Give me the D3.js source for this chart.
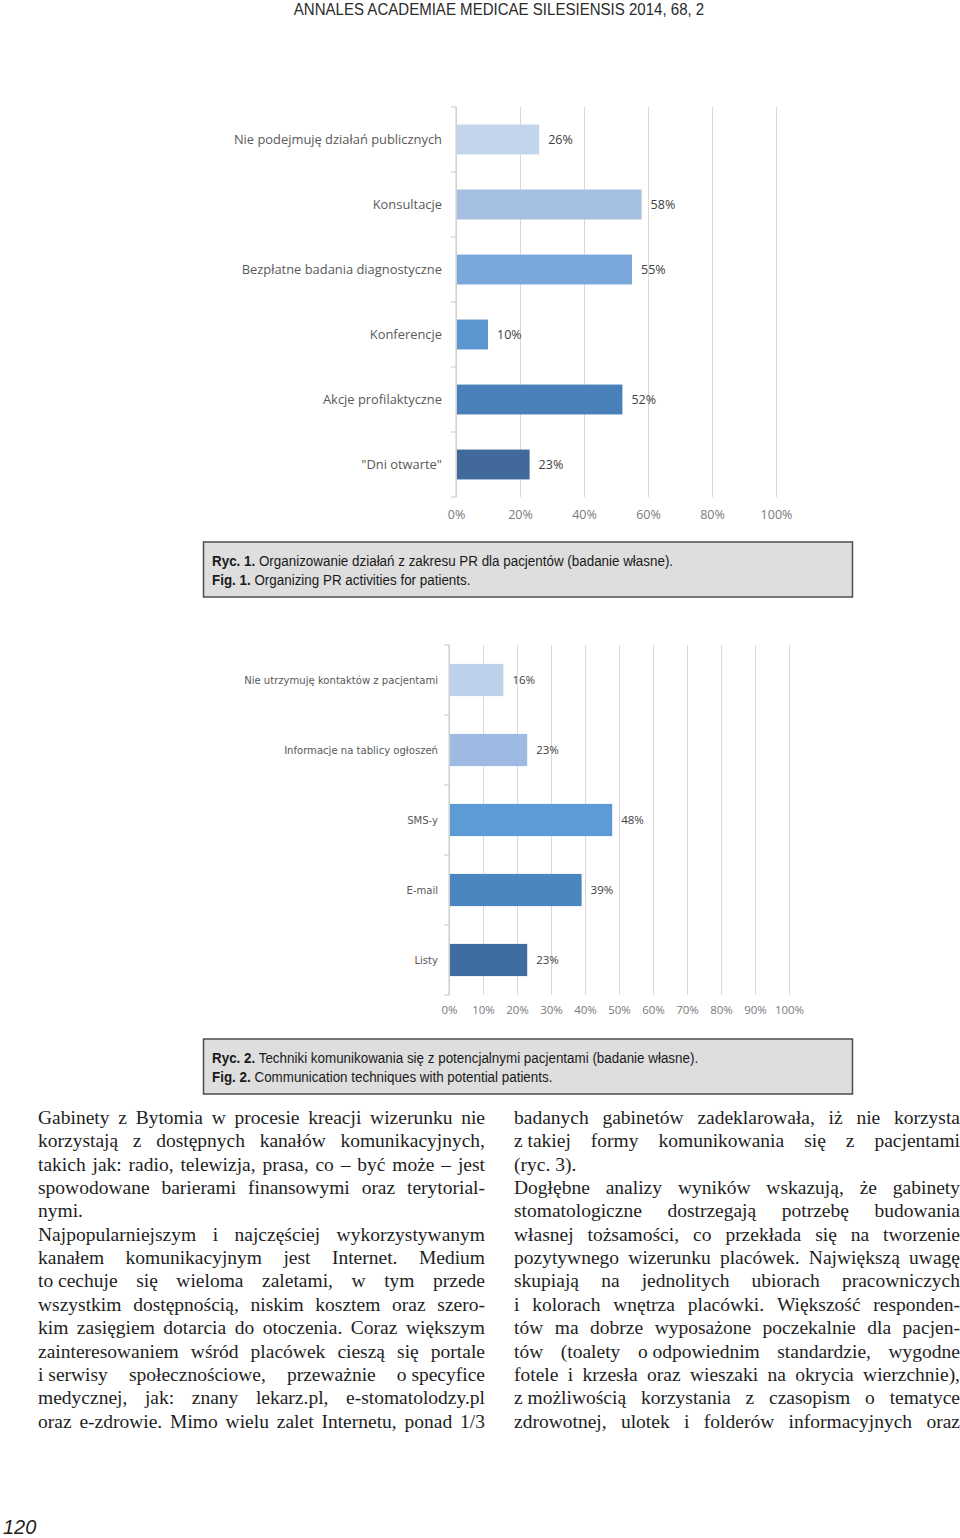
<!DOCTYPE html>
<html><head><meta charset="utf-8">
<script src="https://cdn.jsdelivr.net/npm/d3@7"></script>
<style>
html,body{margin:0;padding:0;background:#fff;}
svg{display:block;}
</style></head>
<body>
<svg id="page" width="960" height="1538"></svg>
<script>
// ---------- DATA ----------
const chart1Categories = ["Nie podejmuję działań publicznych","Konsultacje","Bezpłatne badania diagnostyczne","Konferencje","Akcje profilaktyczne","\"Dni otwarte\""];
const chart1Values = [26, 58, 55, 10, 52, 23];
const chart1Ticks = [0, 20, 40, 60, 80, 100];

const chart2Categories = ["Nie utrzymuję kontaktów z pacjentami","Informacje na tablicy ogłoszeń","SMS-y","E-mail","Listy"];
const chart2Values = [16, 23, 48, 39, 23];
const chart2Ticks = [0, 10, 20, 30, 40, 50, 60, 70, 80, 90, 100];

const palette1 = ["#c3d5ec","#a5bfe3","#7ba8db","#5b96d1","#4a80ba","#41699a"];
const palette2 = ["#bdd1eb","#9dbae2","#5c9bd5","#4b86c1","#3f6d9f"];

const headerText = "ANNALES ACADEMIAE MEDICAE SILESIENSIS 2014, 68, 2";
const caption1 = [["Ryc. 1.", " Organizowanie działań z zakresu PR dla pacjentów (badanie własne)."],["Fig. 1.", " Organizing PR activities for patients."]];
const caption2 = [["Ryc. 2.", " Techniki komunikowania się z potencjalnymi pacjentami (badanie własne)."],["Fig. 2.", " Communication techniques with potential patients."]];

const NB = "\u00a0";
const leftLines = [
 ["Gabinety z Bytomia w procesie kreacji wizerunku nie", true],
 ["korzystają z dostępnych kanałów komunikacyjnych,", true],
 ["takich jak: radio, telewizja, prasa, co – być może – jest", true],
 ["spowodowane barierami finansowymi oraz terytorial-", true],
 ["nymi.", false],
 ["Najpopularniejszym i najczęściej wykorzystywanym", true],
 ["kanałem komunikacyjnym jest Internet. Medium", true],
 ["to"+NB+"cechuje się wieloma zaletami, w tym przede", true],
 ["wszystkim dostępnością, niskim kosztem oraz szero-", true],
 ["kim zasięgiem dotarcia do otoczenia. Coraz większym", true],
 ["zainteresowaniem wśród placówek cieszą się portale", true],
 ["i"+NB+"serwisy społecznościowe, przeważnie o"+NB+"specyfice", true],
 ["medycznej, jak: znany lekarz.pl, e-stomatolodzy.pl", true],
 ["oraz e-zdrowie. Mimo wielu zalet Internetu, ponad 1/3", true]
];
const rightLines = [
 ["badanych gabinetów zadeklarowała, iż nie korzysta", true],
 ["z"+NB+"takiej formy komunikowania się z pacjentami", true],
 ["(ryc. 3).", false],
 ["Dogłębne analizy wyników wskazują, że gabinety", true],
 ["stomatologiczne dostrzegają potrzebę budowania", true],
 ["własnej tożsamości, co przekłada się na tworzenie", true],
 ["pozytywnego wizerunku placówek. Największą uwagę", true],
 ["skupiają na jednolitych ubiorach pracowniczych", true],
 ["i kolorach wnętrza placówki. Większość responden-", true],
 ["tów ma dobrze wyposażone poczekalnie dla pacjen-", true],
 ["tów (toalety o"+NB+"odpowiednim standardzie, wygodne", true],
 ["fotele i krzesła oraz wieszaki na okrycia wierzchnie),", true],
 ["z"+NB+"możliwością korzystania z czasopism o tematyce", true],
 ["zdrowotnej, ulotek i folderów informacyjnych oraz", true]
];
const pageNumber = "120";

// ---------- DRAW ----------
const svg = d3.select("#page");
const sans = "'Liberation Sans',Arial,sans-serif";
const chartFont = "'Open Sans','Noto Sans',sans-serif";
const condensed = "'DejaVu Sans Condensed','Open Sans',sans-serif";

svg.append("g").attr("transform",`translate(499,15) scale(0.885,1)`)
  .append("text").attr("x",0).attr("y",0).attr("text-anchor","middle")
  .style("font-family", sans).style("font-size","17px").attr("fill","#2b2b2b")
  .text(headerText);

function barChart(opts){
  const g = svg.append("g");
  const x = d3.scaleLinear().domain([0,100]).range([opts.x0, opts.x1]);
  const y = d3.scaleBand().domain(opts.cats).range([opts.top, opts.bottom]).paddingInner(opts.pad).paddingOuter(opts.pad/2);
  g.append("g").attr("transform",`translate(0,${opts.bottom})`)
    .call(d3.axisBottom(x).tickValues(opts.ticks).tickSize(-(opts.bottom-opts.top)).tickFormat(""))
    .call(s=>s.select(".domain").remove())
    .call(s=>s.selectAll("line").attr("stroke","#d9d9d9").attr("stroke-width",1));
  g.append("g").attr("transform",`translate(0,${opts.bottom})`)
    .call(d3.axisBottom(x).tickValues(opts.ticks).tickSize(0).tickPadding(opts.tickPad).tickFormat(d=>d+"%"))
    .call(s=>s.select(".domain").remove())
    .call(s=>s.selectAll("text").attr("fill","#7a7a7a").style("font-family",opts.font).style("font-size",opts.tickFs));
  g.selectAll("rect.bar").data(opts.vals).join("rect").attr("class","bar")
    .attr("x", x(0)+1).attr("y",(d,i)=>y(opts.cats[i]))
    .attr("width", d=>x(d)-x(0)-1).attr("height", y.bandwidth())
    .attr("fill",(d,i)=>opts.colors[i]);
  const boundaries = opts.cats.map((c,i)=>opts.top + i*y.step()).concat([opts.bottom]);
  g.append("line").attr("x1",x(0)).attr("x2",x(0)).attr("y1",opts.top).attr("y2",opts.bottom).attr("stroke","#c8c8c8");
  g.selectAll("line.bt").data(boundaries).join("line").attr("class","bt")
    .attr("x1",x(0)-5).attr("x2",x(0)).attr("y1",d=>d).attr("y2",d=>d).attr("stroke","#c8c8c8");
  g.append("g").attr("transform",`translate(${x(0)},0)`)
    .call(d3.axisLeft(y).tickSize(0).tickPadding(opts.labPad))
    .call(s=>s.select(".domain").remove())
    .call(s=>s.selectAll("text").attr("fill","#595959").style("font-family",opts.labFont).style("font-size",opts.labFs));
  g.selectAll("text.val").data(opts.vals).join("text").attr("class","val")
    .attr("x", d=>x(d)+opts.valPad).attr("y",(d,i)=>y(opts.cats[i])+y.bandwidth()/2).attr("dy","0.35em")
    .attr("fill","#404040").style("font-family",opts.font).style("font-size",opts.valFs)
    .text(d=>d+"%");
}

barChart({cats:chart1Categories, vals:chart1Values, ticks:chart1Ticks, colors:palette1,
  x0:456, x1:776, top:107, bottom:497, pad:0.54, font:chartFont, labFont:chartFont,
  tickFs:"12.5px", labFs:"12.9px", valFs:"12.5px", tickPad:13, labPad:14, valPad:9});

barChart({cats:chart2Categories, vals:chart2Values, ticks:chart2Ticks, colors:palette2,
  x0:449, x1:789, top:645, bottom:995, pad:0.54, font:chartFont, labFont:condensed,
  tickFs:"11.5px", labFs:"11.2px", valFs:"11.5px", tickPad:11, labPad:11, valPad:9});

function captionBox(y0, lines){
  svg.append("rect").attr("x",203.5).attr("y",y0).attr("width",649).attr("height",55)
    .attr("fill","#dedede").attr("stroke","#4d4d4d").attr("stroke-width",1.5);
  lines.forEach((ln,i)=>{
    const t = svg.append("g").attr("transform",`translate(212,${y0+24+i*19}) scale(0.865,1)`)
      .append("text").attr("x",0).attr("y",0)
      .style("font-family",sans).style("font-size","15.5px").attr("fill","#1a1a1a");
    t.append("tspan").style("font-weight","bold").text(ln[0]);
    t.append("tspan").text(ln[1]);
  });
}
captionBox(542, caption1);
captionBox(1039, caption2);

const serif = "'Liberation Serif','Times New Roman',serif";
function column(lines, x0, width, y0, lh){
  const g = svg.append("g").style("font-family",serif).style("font-size","19.5px").attr("fill","#1e1e1e");
  const meas = g.append("text").attr("x",-1000).attr("y",-1000);
  lines.forEach((ln,i)=>{
    const yy = y0 + i*lh;
    const words = ln[0].split(" ");
    if(!ln[1] || words.length===1){
      g.append("text").attr("x",x0).attr("y",yy).text(ln[0]);
      return;
    }
    const ws = words.map(w=>{ meas.text(w); return meas.node().getComputedTextLength(); });
    const total = d3.sum(ws);
    const gap = (width-total)/(words.length-1);
    let cx = x0;
    const t = g.append("text").attr("y",yy);
    words.forEach((w,j)=>{ t.append("tspan").attr("x",cx).text(w); cx += ws[j]+gap; });
  });
  meas.remove();
}
column(leftLines, 38, 447, 1124, 23.35);
column(rightLines, 514, 446, 1124, 23.35);

svg.append("text").attr("x",3).attr("y",1534).style("font-family",sans)
  .style("font-style","italic").style("font-size","20px").attr("fill","#1e1e1e").text(pageNumber);
</script>
</body></html>
